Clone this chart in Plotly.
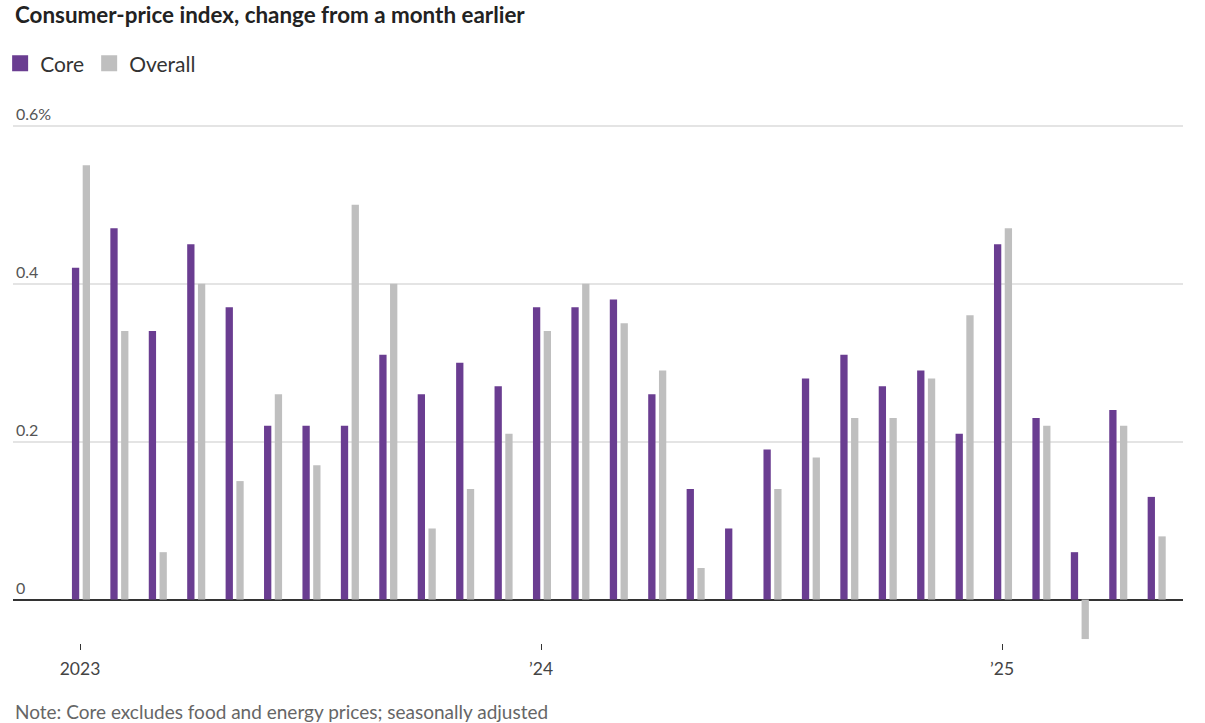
import plotly.graph_objects as go

months = ["Jan 2023", "Feb 2023", "Mar 2023", "Apr 2023", "May 2023", "Jun 2023",
          "Jul 2023", "Aug 2023", "Sep 2023", "Oct 2023", "Nov 2023", "Dec 2023",
          "Jan 2024", "Feb 2024", "Mar 2024", "Apr 2024", "May 2024", "Jun 2024",
          "Jul 2024", "Aug 2024", "Sep 2024", "Oct 2024", "Nov 2024", "Dec 2024",
          "Jan 2025", "Feb 2025", "Mar 2025", "Apr 2025", "May 2025"]
core = [0.42, 0.47, 0.34, 0.45, 0.37, 0.22, 0.22, 0.22, 0.31, 0.26, 0.30, 0.27,
        0.37, 0.37, 0.38, 0.26, 0.14, 0.09, 0.19, 0.28, 0.31, 0.27, 0.29, 0.21,
        0.45, 0.23, 0.06, 0.24, 0.13]
overall = [0.55, 0.34, 0.06, 0.40, 0.15, 0.26, 0.17, 0.50, 0.40, 0.09, 0.14, 0.21,
           0.34, 0.40, 0.35, 0.29, 0.04, 0.00, 0.14, 0.18, 0.23, 0.23, 0.28, 0.36,
           0.47, 0.22, -0.05, 0.22, 0.08]
x_tick_idx = [0, 12, 24]
x_tick_text = ["2023", "\u201924", "\u201925"]
y_tick_vals = [0, 0.2, 0.4, 0.6]
y_tick_text = ["0", "0.2", "0.4", "0.6%"]

CORE_COLOR = "#6a3d91"
OVERALL_COLOR = "#bfbfbf"
FONT = "Lato"

idx = list(range(len(months)))

fig = go.Figure()
fig.add_trace(go.Bar(x=idx, y=core, name="Core", marker_color=CORE_COLOR,
                     marker_line_width=0, offset=-0.21, width=0.19,
                     showlegend=False, hovertext=months))
fig.add_trace(go.Bar(x=idx, y=overall, name="Overall", marker_color=OVERALL_COLOR,
                     marker_line_width=0, offset=0.07, width=0.19,
                     showlegend=False, hovertext=months))
# legend entries
for name, col in [("Core", CORE_COLOR), ("Overall", OVERALL_COLOR)]:
    fig.add_trace(go.Scatter(x=[None], y=[None], mode="markers", name=name,
                             marker=dict(symbol="square", size=18, color=col)))

fig.update_layout(
    width=1205, height=723,
    margin=dict(l=13, r=22, t=102.3, b=79.5, autoexpand=False),
    plot_bgcolor="white", paper_bgcolor="white",
    barmode="overlay",
    font=dict(family=FONT, color="#333"),
    showlegend=True,
    legend=dict(orientation="h", x=-0.011, xanchor="left", y=1.0708, yanchor="middle",
                font=dict(size=21, color="#333", family=FONT),
                itemsizing="trace", traceorder="normal", itemwidth=30),
    xaxis=dict(range=[-1.744, 28.71], tickvals=x_tick_idx, ticktext=x_tick_text,
               ticks="outside", ticklen=6, tickcolor="#333", tickwidth=1,
               ticklabelstandoff=4,
               showgrid=False, showline=False, zeroline=False, automargin=False,
               tickfont=dict(size=17.5, color="#444", family=FONT)),
    yaxis=dict(range=[-0.055, 0.63], tickvals=y_tick_vals, ticktext=y_tick_text,
               ticklabelposition="inside top", showgrid=True, gridcolor="#e4e4e4",
               gridwidth=1.5, zeroline=True, zerolinecolor="#333", zerolinewidth=1.5,
               showline=False, ticks="", automargin=False,
               tickfont=dict(size=16, color="#555", family=FONT)),
    annotations=[
        dict(text="<b>Consumer-price index, change from a month earlier</b>",
             xref="paper", yref="paper", x=0, y=1.1613, xanchor="left", yanchor="middle",
             showarrow=False, font=dict(size=22.4, color="#222", family=FONT)),
        dict(text="Note: Core excludes food and energy prices; seasonally adjusted",
             xref="paper", yref="paper", x=0, y=-0.1266, xanchor="left", yanchor="middle",
             showarrow=False, font=dict(size=19, color="#666", family=FONT)),
    ],
)

fig.write_html("out.html", config={"displayModeBar": False},
               post_script="document.body.style.margin='0px';")
